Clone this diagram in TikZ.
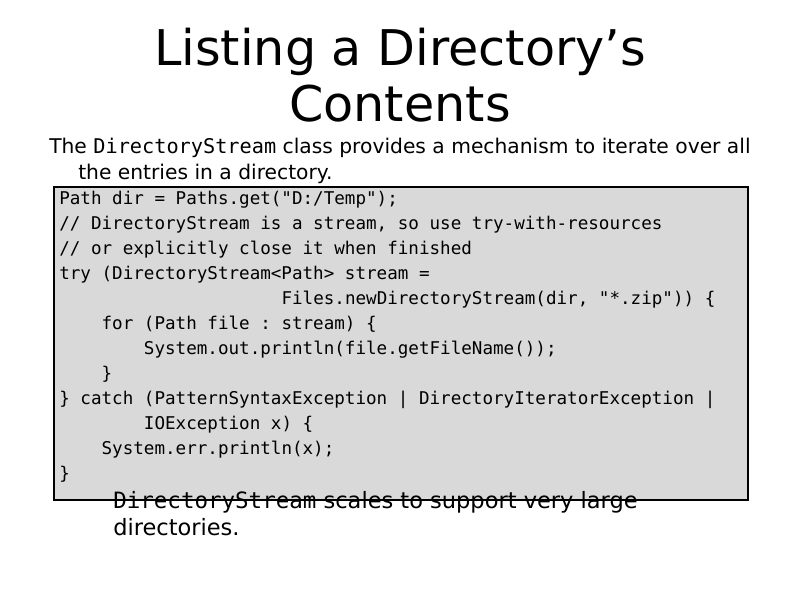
\documentclass[tikz,border=0pt]{standalone}
\usepackage{fontspec}
\setmainfont{DejaVu Sans}
\setmonofont{DejaVu Sans Mono}
\begin{document}
\begin{tikzpicture}[x=0.025cm,y=-0.025cm,
  title/.style={anchor=base,inner sep=0,font=\fontsize{35}{35}\selectfont},
  body/.style={anchor=base west,inner sep=0,font=\fontsize{14.4}{14.4}\selectfont},
  bodyb/.style={anchor=base west,inner sep=0,font=\fontsize{16}{16}\selectfont},
  code/.style={anchor=base west,inner sep=0,font=\ttfamily\fontsize{12.5}{12.5}\selectfont}]
\useasboundingbox (0,0) rectangle (800,600);
\node[title] (t1) at (400,65) {Listing a Directory’s};
\node[title] (t2) at (400,121) {Contents};
\node[body] (b1) at (49,153) {The {\ttfamily DirectoryStream} class provides a mechanism to iterate over all};
\node[body] (b2) at (78,179) {the entries in a directory.};
\draw[line width=1.5pt,fill=black!15] (54,187) rectangle (748,500);
\foreach \i/\s in {0/{Path dir = Paths.get("D:/Temp");},
 1/{// DirectoryStream is a stream, so use try-with-resources},
 2/{// or explicitly close it when finished},
 3/{try (DirectoryStream<Path> stream =},
 4/{\hphantom{try (DirectoryStream<}Files.newDirectoryStream(dir, "*.zip")) \{},
 5/{\hphantom{xxxx}for (Path file : stream) \{},
 6/{\hphantom{xxxxxxxx}System.out.println(file.getFileName());},
 7/{\hphantom{xxxx}\}},
 8/{\} catch (PatternSyntaxException | DirectoryIteratorException |},
 9/{\hphantom{xxxxxxxx}IOException x) \{},
 10/{\hphantom{xxxx}System.err.println(x);},
 11/{\}}}
  \node[code] (c\i) at (59,204+25*\i) {\s};
\node[bodyb] (d1) at (113,508) {{\ttfamily DirectoryStream} scales to support very large};
\node[bodyb] (d2) at (113,535) {directories.};
\end{tikzpicture}
\end{document}
